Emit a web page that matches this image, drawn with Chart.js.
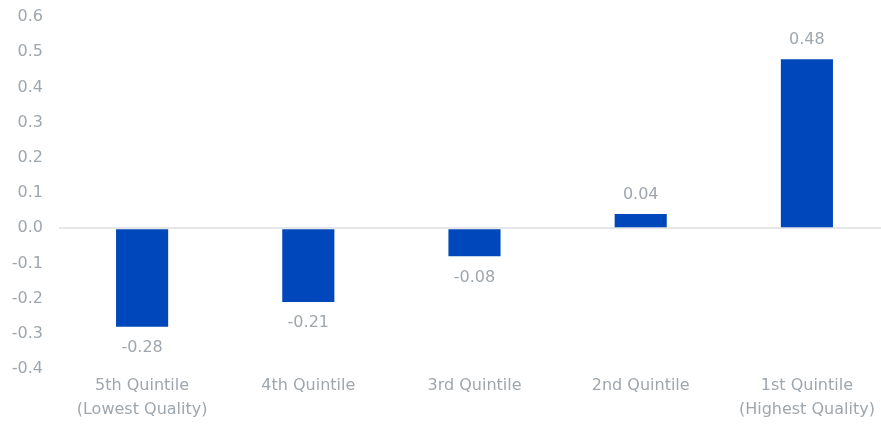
<!DOCTYPE html>
<html>
<head>
<meta charset="utf-8">
<script src="https://cdn.jsdelivr.net/npm/chart.js@4"></script>
<style>
  html, body { margin: 0; padding: 0; background: #fff; overflow: hidden; }
  #wrap { width: 890px; height: 427px; position: relative; }
</style>
</head>
<body>
<div id="wrap"><canvas id="myChart"></canvas></div>
<script>
// data
var categories = [
  ["5th Quintile", "(Lowest Quality)"],
  "4th Quintile",
  "3rd Quintile",
  "2nd Quintile",
  ["1st Quintile", "(Highest Quality)"]
];
var values = [-0.28, -0.21, -0.08, 0.04, 0.48];
var yMin = -0.4, yMax = 0.6, yStep = 0.1;

var barBlue = "#0047bb";
var textGray = "#9ea6ae";
var fontFamily = "'DejaVu Sans', sans-serif";

// draws the number above / below each bar
var valueLabels = {
  id: "valueLabels",
  afterDatasetsDraw: function(chart) {
    var ctx = chart.ctx;
    var meta = chart.getDatasetMeta(0);
    ctx.save();
    ctx.font = "16px " + fontFamily;
    ctx.fillStyle = textGray;
    ctx.textAlign = "center";
    ctx.textBaseline = "middle";
    meta.data.forEach(function(bar, i) {
      var v = values[i];
      if (v >= 0) {
        ctx.fillText(v.toFixed(2), bar.x, bar.y - 19);
      } else {
        ctx.fillText(v.toFixed(2), bar.x, bar.y + 21);
      }
    });
    ctx.restore();
  }
};

var ctx = document.getElementById("myChart").getContext("2d");
var myChart = new Chart(ctx, {
  type: "bar",
  data: {
    labels: categories,
    datasets: [{
      data: values,
      backgroundColor: barBlue,
      borderWidth: 0,
      categoryPercentage: 0.32,
      barPercentage: 0.98
    }]
  },
  options: {
    responsive: true,
    maintainAspectRatio: false,
    animation: false,
    layout: { padding: { top: 17, right: 0, bottom: 0, left: 0 } },
    plugins: {
      legend: { display: false },
      tooltip: { enabled: false }
    },
    scales: {
      x: {
        grid: { display: false, drawTicks: false },
        border: { display: false },
        ticks: {
          color: textGray,
          font: { family: fontFamily, size: 16, lineHeight: 1.5 },
          maxRotation: 0,
          autoSkip: false,
          padding: 5
        },
        afterFit: function(scale) {
          scale.height = 58;
          scale.paddingLeft = 0;
          scale.paddingRight = 0;
        }
      },
      y: {
        min: yMin,
        max: yMax,
        border: { display: false },
        grid: {
          drawTicks: false,
          color: function(c) {
            return c.tick && Math.abs(c.tick.value) < 1e-9 ? "#e4e6e8" : "rgba(0,0,0,0)";
          },
          lineWidth: 2
        },
        ticks: {
          stepSize: yStep,
          color: textGray,
          font: { family: fontFamily, size: 16 },
          padding: 16,
          callback: function(v) { return v.toFixed(1); }
        },
        afterFit: function(scale) {
          scale.width = 59;
          scale.paddingTop = 0;
          scale.paddingBottom = 0;
        }
      }
    }
  },
  plugins: [valueLabels]
});
</script>
</body>
</html>
